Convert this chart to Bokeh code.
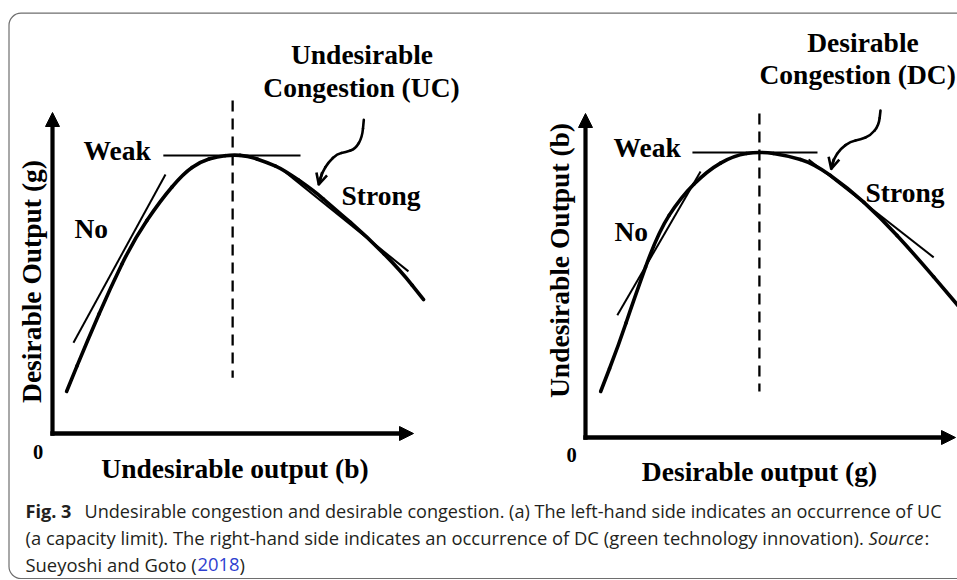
import numpy as np
from bokeh.plotting import figure
from bokeh.models import Range1d, Arrow, NormalHead, OpenHead
from bokeh.core.properties import value
from bokeh.embed import file_html
from bokeh.resources import INLINE

# ---------------- data (conceptual units: each axis runs 0..10) ----------------
# Left panel: x = undesirable output (b), y = desirable output (g)
left_curve_x = [0.39, 0.97, 1.61, 2.24, 2.99, 3.63, 4.10, 4.57, 4.99, 5.40, 5.96, 6.40, 7.23, 7.78, 8.73, 9.64, 10.28]
left_curve_y = [1.31, 2.90, 4.55, 6.01, 7.26, 8.10, 8.47, 8.63, 8.68, 8.65, 8.44, 8.22, 7.57, 7.04, 6.11, 5.08, 4.17]
left_tan_x0 = [0.58, 3.07, 6.40]   # No, Weak, Strong
left_tan_y0 = [2.83, 8.66, 8.19]
left_tan_x1 = [3.13, 6.87, 9.86]
left_tan_y1 = [8.07, 8.66, 5.05]
left_peak_x = 4.99
left_dash_y = [10.37, 1.74]

# Right panel: x = desirable output (g), y = undesirable output (b)
right_curve_x = [0.41, 0.89, 1.30, 1.95, 2.57, 3.30, 4.00, 4.70, 5.46, 6.16, 7.08, 7.97, 8.87, 9.95, 10.27]
right_curve_y = [1.42, 2.84, 4.23, 6.30, 7.41, 8.24, 8.70, 8.83, 8.70, 8.46, 7.72, 6.79, 5.68, 4.23, 3.80]
right_tan_x0 = [0.86, 2.89, 6.03]
right_tan_y0 = [3.77, 8.80, 8.58]
right_tan_x1 = [3.11, 6.27, 9.41]
right_tan_y1 = [8.21, 8.80, 5.56]
right_peak_x = 4.70
right_dash_y = [10.0, 1.42]

# curly pointer arrows (page units)
left_curl_x = [363.3, 361.7, 355.0, 345.0, 336.7, 328.0, 321.7, 318.3]
left_curl_y = [119.3, 136.7, 148.3, 151.7, 153.3, 161.7, 171.7, 184.0]
right_curl_x = [880.0, 878.3, 870.0, 860.0, 850.0, 840.0, 833.3, 830.7]
right_curl_y = [110.0, 125.0, 135.0, 139.0, 141.0, 148.3, 158.3, 168.3]

# texts
tangent_labels = ["Weak", "No", "Strong"]
left_title = ["Undesirable", "Congestion (UC)"]
right_title = ["Desirable", "Congestion (DC)"]
left_xlabel = "Undesirable output (b)"
left_ylabel = "Desirable Output (g)"
right_xlabel = "Desirable output (g)"
right_ylabel = "Undesirable Output (b)"
origin_label = "0"
cap_fig = "Fig. 3"
cap_line1 = "Undesirable congestion and desirable congestion. (a) The left-hand side indicates an occurrence of UC"
cap_line2 = "(a capacity limit). The right-hand side indicates an occurrence of DC (green technology innovation)."
cap_source = "Source"
cap_line3 = "Sueyoshi and Goto ("
cap_year = "2018"

# ---------------- layout ----------------
W, H = 957, 580
p = figure(width=W, height=H, x_range=Range1d(0, W), y_range=Range1d(H, 0),
           x_axis_type=None, y_axis_type=None, toolbar_location=None,
           output_backend="svg", min_border=0, outline_line_color=None)
p.grid.visible = False
p.background_fill_color = "white"
p.border_fill_color = "white"

# panel frames: (origin px x, origin px y, px per unit x, px per unit y)
panels = {
    "L": (52.0, 433.0, 36.1, 32.1),
    "R": (585.0, 437.0, 37.0, 32.4),
}
p.extra_x_ranges = {}
p.extra_y_ranges = {}
for k, (ox, oy, sx, sy) in panels.items():
    p.extra_x_ranges[k] = Range1d((0 - ox) / sx, (W - ox) / sx)
    p.extra_y_ranges[k] = Range1d((oy - H) / sy, (oy - 0) / sy)


def smooth_line(xs, ys, **kw):
    """Draw a smooth path with quadratic pieces whose control points are the data points."""
    xs = np.asarray(xs, float)
    ys = np.asarray(ys, float)
    mx = (xs[:-1] + xs[1:]) / 2
    my = (ys[:-1] + ys[1:]) / 2
    p.segment([xs[0]], [ys[0]], [mx[0]], [my[0]], **kw)
    p.quadratic(x0=mx[:-1], y0=my[:-1], x1=mx[1:], y1=my[1:], cx=xs[1:-1], cy=ys[1:-1], **kw)
    p.segment([mx[-1]], [my[-1]], [xs[-1]], [ys[-1]], **kw)


# outer rounded frame
p.quad(left=[8.5], right=[1100], top=[12.7], bottom=[578], fill_color=None,
       line_color="#6e6e6e", line_width=1.2, border_radius=12)

panel_data = {
    "L": (left_curve_x, left_curve_y, left_tan_x0, left_tan_y0, left_tan_x1, left_tan_y1, left_peak_x, left_dash_y),
    "R": (right_curve_x, right_curve_y, right_tan_x0, right_tan_y0, right_tan_x1, right_tan_y1, right_peak_x, right_dash_y),
}
for k, (cx, cy, tx0, ty0, tx1, ty1, px_, dy) in panel_data.items():
    kw = dict(x_range_name=k, y_range_name=k)
    # axes with arrows
    p.add_layout(Arrow(end=NormalHead(size=14, fill_color="black", line_color="black", line_width=1),
                       x_start=0, y_start=-0.07, x_end=0, y_end=10, line_width=4.2, line_color="black", **kw))
    p.add_layout(Arrow(end=NormalHead(size=14, fill_color="black", line_color="black", line_width=1),
                       x_start=-0.06, y_start=0, x_end=10, y_end=0, line_width=4.6, line_color="black", **kw))
    # dashed vertical through the peak
    p.line([px_, px_], dy, line_color="black", line_width=2.3, line_dash="11 7", **kw)
    # tangent lines
    p.segment(tx0, ty0, tx1, ty1, line_color="black", line_width=2.0, **kw)
    # frontier curve
    smooth_line(cx, cy, line_color="black", line_width=3.6, line_cap="round", **kw)

# curly pointers
for xs, ys in ((left_curl_x, left_curl_y), (right_curl_x, right_curl_y)):
    smooth_line(xs, ys, line_color="black", line_width=2.6, line_cap="round")
    p.add_layout(Arrow(end=OpenHead(size=11, line_width=2.6, line_color="black"),
                       x_start=xs[-2], y_start=ys[-2], x_end=xs[-1], y_end=ys[-1],
                       line_width=2.6, line_color="black"))

# text helper: place the alphabetic baseline where wanted
BL = 0.35  # observed shift of the rendered baseline, in em


def label(xs, ys, texts, size, angle=0.0, **kw):
    ys = [y - (BL * size if angle == 0 else 0) for y in ys]
    xs = [x - (BL * size if angle != 0 else 0) for x in xs]
    p.text(x=xs, y=ys, text=texts, text_font_size=f"{size}px", angle=angle,
           text_baseline="alphabetic", **kw)


serif = dict(text_font=value("Liberation Serif"), text_font_style="bold", text_color="black")
FS = 27.5

# tangent labels
label([83, 74, 341, 613, 614, 865], [159.5, 238, 205, 157, 240.7, 201.7],
      tangent_labels + tangent_labels, FS, text_align="left", **serif)
# titles
label([361.5, 361, 862.5], [64, 97, 51.7], left_title + right_title[:1], FS,
      text_align="center", **serif)
label([759], [83.3], right_title[1:], FS, text_align="left", **serif)
# axis titles
label([234.5, 759], [477.3, 481], [left_xlabel, right_xlabel], FS, text_align="center", **serif)
label([41, 569], [281, 260], [left_ylabel, right_ylabel], FS, angle=np.pi / 2,
      text_align="center", **serif)
label([37.7, 571], [458.8, 462], [origin_label, origin_label], 20.5, text_align="center", **serif)

# caption
sans = value("Open Sans")
cap_col = "#231f20"
label([25], [516.7], [cap_fig], 18.1, text_font=sans, text_font_style="bold", text_color=cap_col)
label([84], [516.7], [cap_line1], 18.1, text_font=sans, text_color=cap_col)
label([25, 924, 25, 239], [543.3, 543.3, 570, 570], [cap_line2, ":", cap_line3, ")"], 18.4,
      text_font=sans, text_color=cap_col)
label([868], [543.3], [cap_source], 18.4, text_font=sans, text_font_style="italic", text_color=cap_col)
label([197], [570], [cap_year], 18.4, text_font=sans, text_color="#2f3fd0")

open("out.html", "w").write(file_html(p, INLINE))
